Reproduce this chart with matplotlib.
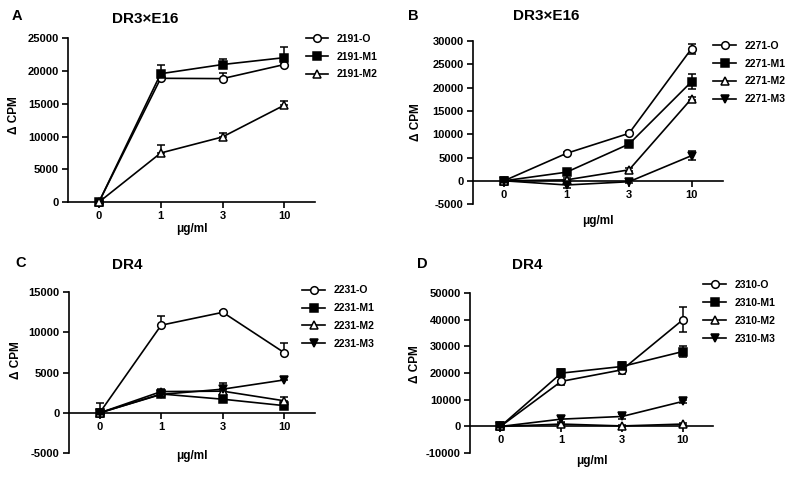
import matplotlib
matplotlib.use("Agg")
import matplotlib.pyplot as plt
from matplotlib import font_manager
import numpy as np

plt.rcParams['font.family'] = ['Liberation Sans', 'DejaVu Sans']
plt.rcParams['font.weight'] = 'bold'
plt.rcParams['axes.unicode_minus'] = False

installed = {f.name for f in font_manager.fontManager.ttflist}
tick_font = 'Liberation Sans Narrow' if 'Liberation Sans Narrow' in installed else 'Liberation Sans'

doses = ['0', '1', '3', '10']

# panel A  DR3xE16
a_names = ['2191-O', '2191-M1', '2191-M2']
a_vals = [[0, 18900, 18850, 21000],
          [0, 19600, 21000, 22050],
          [0, 7500, 9950, 14800]]
a_errs = [[300, 300, 800, 300],
          [300, 1400, 900, 1700],
          [300, 1200, 550, 650]]

# panel B  DR3xE16
b_names = ['2271-O', '2271-M1', '2271-M2', '2271-M3']
b_vals = [[0, 5900, 10200, 28400],
          [0, 1850, 7900, 21300],
          [0, 200, 2350, 17650],
          [0, -900, -200, 5400]]
b_errs = [[300, 300, 300, 1100],
          [300, 300, 300, 1600],
          [300, 300, 300, 300],
          [300, 700, 300, 950]]

# panel C  DR4
c_names = ['2231-O', '2231-M1', '2231-M2', '2231-M3']
c_vals = [[0, 10900, 12500, 7470],
          [0, 2350, 1700, 900],
          [0, 2650, 2700, 1500],
          [0, 2300, 2950, 4100]]
c_errs = [[1200, 1100, 200, 1200],
          [300, 300, 300, 300],
          [300, 300, 300, 500],
          [300, 300, 800, 300]]

# panel D  DR4
d_names = ['2310-O', '2310-M1', '2310-M2', '2310-M3']
d_vals = [[0, 16900, 21250, 40000],
          [0, 20000, 22500, 28100],
          [0, 900, 200, 900],
          [0, 2750, 3750, 9400]]
d_errs = [[300, 1500, 1500, 4700],
          [300, 1500, 1500, 2000],
          [300, 300, 300, 300],
          [300, 1000, 1000, 500]]

markers = [dict(marker='o', mfc='white'),
           dict(marker='s', mfc='black'),
           dict(marker='^', mfc='white'),
           dict(marker='v', mfc='black')]


def panel(ax, names, vals, errs, ylim, yticks, letter, title, upper_only, pos):
    # pos: letter (x, y), title (x, y), ylabel (x, y), xlabel y, legend (x, y)
    x = np.arange(len(doses))
    for i, name in enumerate(names):
        e = np.array(errs[i])
        yerr = [np.zeros_like(e), e] if upper_only else e
        ax.errorbar(x, vals[i], yerr=yerr, fmt='none', ecolor='black',
                    capsize=3, capthick=1.1, elinewidth=1.1, clip_on=False, zorder=2)
        ax.plot(x, vals[i], color='black', lw=1.2, ms=5.5, mec='black', mew=1.1,
                label=name, clip_on=False, zorder=3, **markers[i])
    ax.set_xlim(-0.5, 3.5)
    ax.set_ylim(*ylim)
    ax.set_yticks(yticks)
    ax.set_xticks(x)
    ax.set_xticklabels(doses)
    ax.spines['top'].set_visible(False)
    ax.spines['right'].set_visible(False)
    ax.spines['bottom'].set_position(('data', 0))
    for s in ax.spines.values():
        s.set_linewidth(1.2)
    ax.tick_params(width=1.2, length=4, pad=2.5)
    for lab in ax.get_xticklabels() + ax.get_yticklabels():
        lab.set_fontfamily([tick_font, 'DejaVu Sans'])
        lab.set_fontsize(8)
        lab.set_fontweight('bold')
    ax.set_ylabel('Δ CPM', fontsize=8.5, fontweight='bold')
    ax.yaxis.set_label_coords(*pos['ylab'])
    ax.set_xlabel('μg/ml', fontsize=8.5, fontweight='bold')
    ax.xaxis.set_label_coords(0.5, pos['xlab'])
    ax.text(*pos['letter'], letter, transform=ax.transAxes, fontsize=10.5,
            fontweight='bold', va='baseline')
    ax.text(*pos['title'], title, transform=ax.transAxes, fontsize=11,
            fontweight='bold', va='baseline')
    ax.legend(loc='upper left', bbox_to_anchor=pos['leg'], frameon=False,
              fontsize=7.5, handlelength=2.2, labelspacing=0.75, handletextpad=0.8)


fig = plt.figure(figsize=(8, 4.79), dpi=100)
axA = fig.add_axes([0.085, 0.578, 0.309, 0.342])
axB = fig.add_axes([0.591, 0.574, 0.3125, 0.340])
axC = fig.add_axes([0.086, 0.054, 0.308, 0.336])
axD = fig.add_axes([0.5875, 0.054, 0.304, 0.334])

panel(axA, a_names, a_vals, a_errs, (0, 25000), np.arange(0, 25001, 5000),
      'A', 'DR3×E16', True,
      dict(letter=(-0.227, 1.11), title=(0.178, 1.093), ylab=(-0.195, 0.53),
           xlab=-0.125, leg=(0.923, 1.085)))
panel(axB, b_names, b_vals, b_errs, (-5000, 30000), np.arange(-5000, 30001, 5000),
      'B', 'DR3×E16', False,
      dict(letter=(-0.26, 1.129), title=(0.16, 1.129), ylab=(-0.204, 0.5),
           xlab=-0.07, leg=(0.924, 1.06)))
panel(axC, c_names, c_vals, c_errs, (-5000, 15000), np.arange(-5000, 15001, 5000),
      'C', 'DR4', True,
      dict(letter=(-0.215, 1.155), title=(0.175, 1.143), ylab=(-0.19, 0.58),
           xlab=0.02, leg=(0.91, 1.1)))
panel(axD, d_names, d_vals, d_errs, (-10000, 50000), np.arange(-10000, 50001, 10000),
      'D', 'DR4', False,
      dict(letter=(-0.218, 1.156), title=(0.173, 1.15), ylab=(-0.2, 0.556),
           xlab=-0.01, leg=(0.92, 1.14)))

fig.savefig('out.png', dpi=100)
